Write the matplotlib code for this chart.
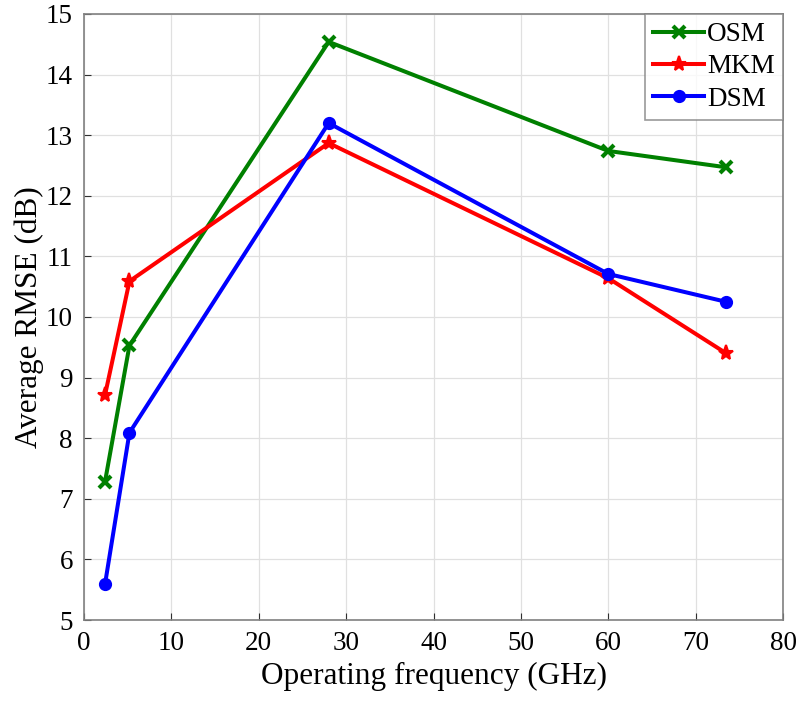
import matplotlib
matplotlib.use("Agg")
import matplotlib.pyplot as plt

plt.rcParams['font.family'] = ['Liberation Serif', 'DejaVu Serif']
plt.rcParams['mathtext.fontset'] = 'stix'

freq = [2.4, 5.2, 28, 60, 73.5]
osm = [7.28, 9.53, 14.54, 12.74, 12.47]
mkm = [8.71, 10.59, 12.87, 10.64, 9.40]
dsm = [5.59, 8.09, 13.20, 10.71, 10.25]
labels = ["OSM", "MKM", "DSM"]

fig = plt.figure(figsize=(8.01, 7.06), dpi=100)
ax = fig.add_axes([0.1049, 0.1218, 0.8727, 0.8584])

ax.plot(freq, osm, color='#008000', lw=2.9, marker='x', ms=9, mew=3.0, label=labels[0])
ax.plot(freq, mkm, color='#ff0000', lw=2.9, marker='*', ms=11, mew=1.5, label=labels[1])
ax.plot(freq, dsm, color='#0000ff', lw=2.9, marker='o', ms=8, mew=1.5, label=labels[2])

ax.set_xlim(0, 80)
ax.set_ylim(5, 15)
ax.set_xticks(range(0, 81, 10))
ax.set_yticks(range(5, 16))
ax.grid(True, color='#e0e0e0', lw=0.9)
ax.set_axisbelow(True)
for s in ['left', 'bottom', 'right', 'top']:
    ax.spines[s].set_color('#808080')
    ax.spines[s].set_linewidth(1.2)
ax.tick_params(direction='in', length=5, color='#303030', labelsize=19.5, pad=8,
               top=False, right=False)
ax.set_xlabel('Operating frequency (GHz)', fontsize=22.5, labelpad=4)
ax.set_ylabel('Average RMSE (dB)', fontsize=22.5, labelpad=1.5)

leg = ax.legend(loc='upper right', fontsize=19.5, frameon=True, fancybox=False,
                edgecolor='#808080', borderaxespad=0, handlelength=1.9,
                handletextpad=0.1, labelspacing=0.27, borderpad=0.3)
leg.get_frame().set_linewidth(1.2)

fig.savefig('out.png', dpi=100)
